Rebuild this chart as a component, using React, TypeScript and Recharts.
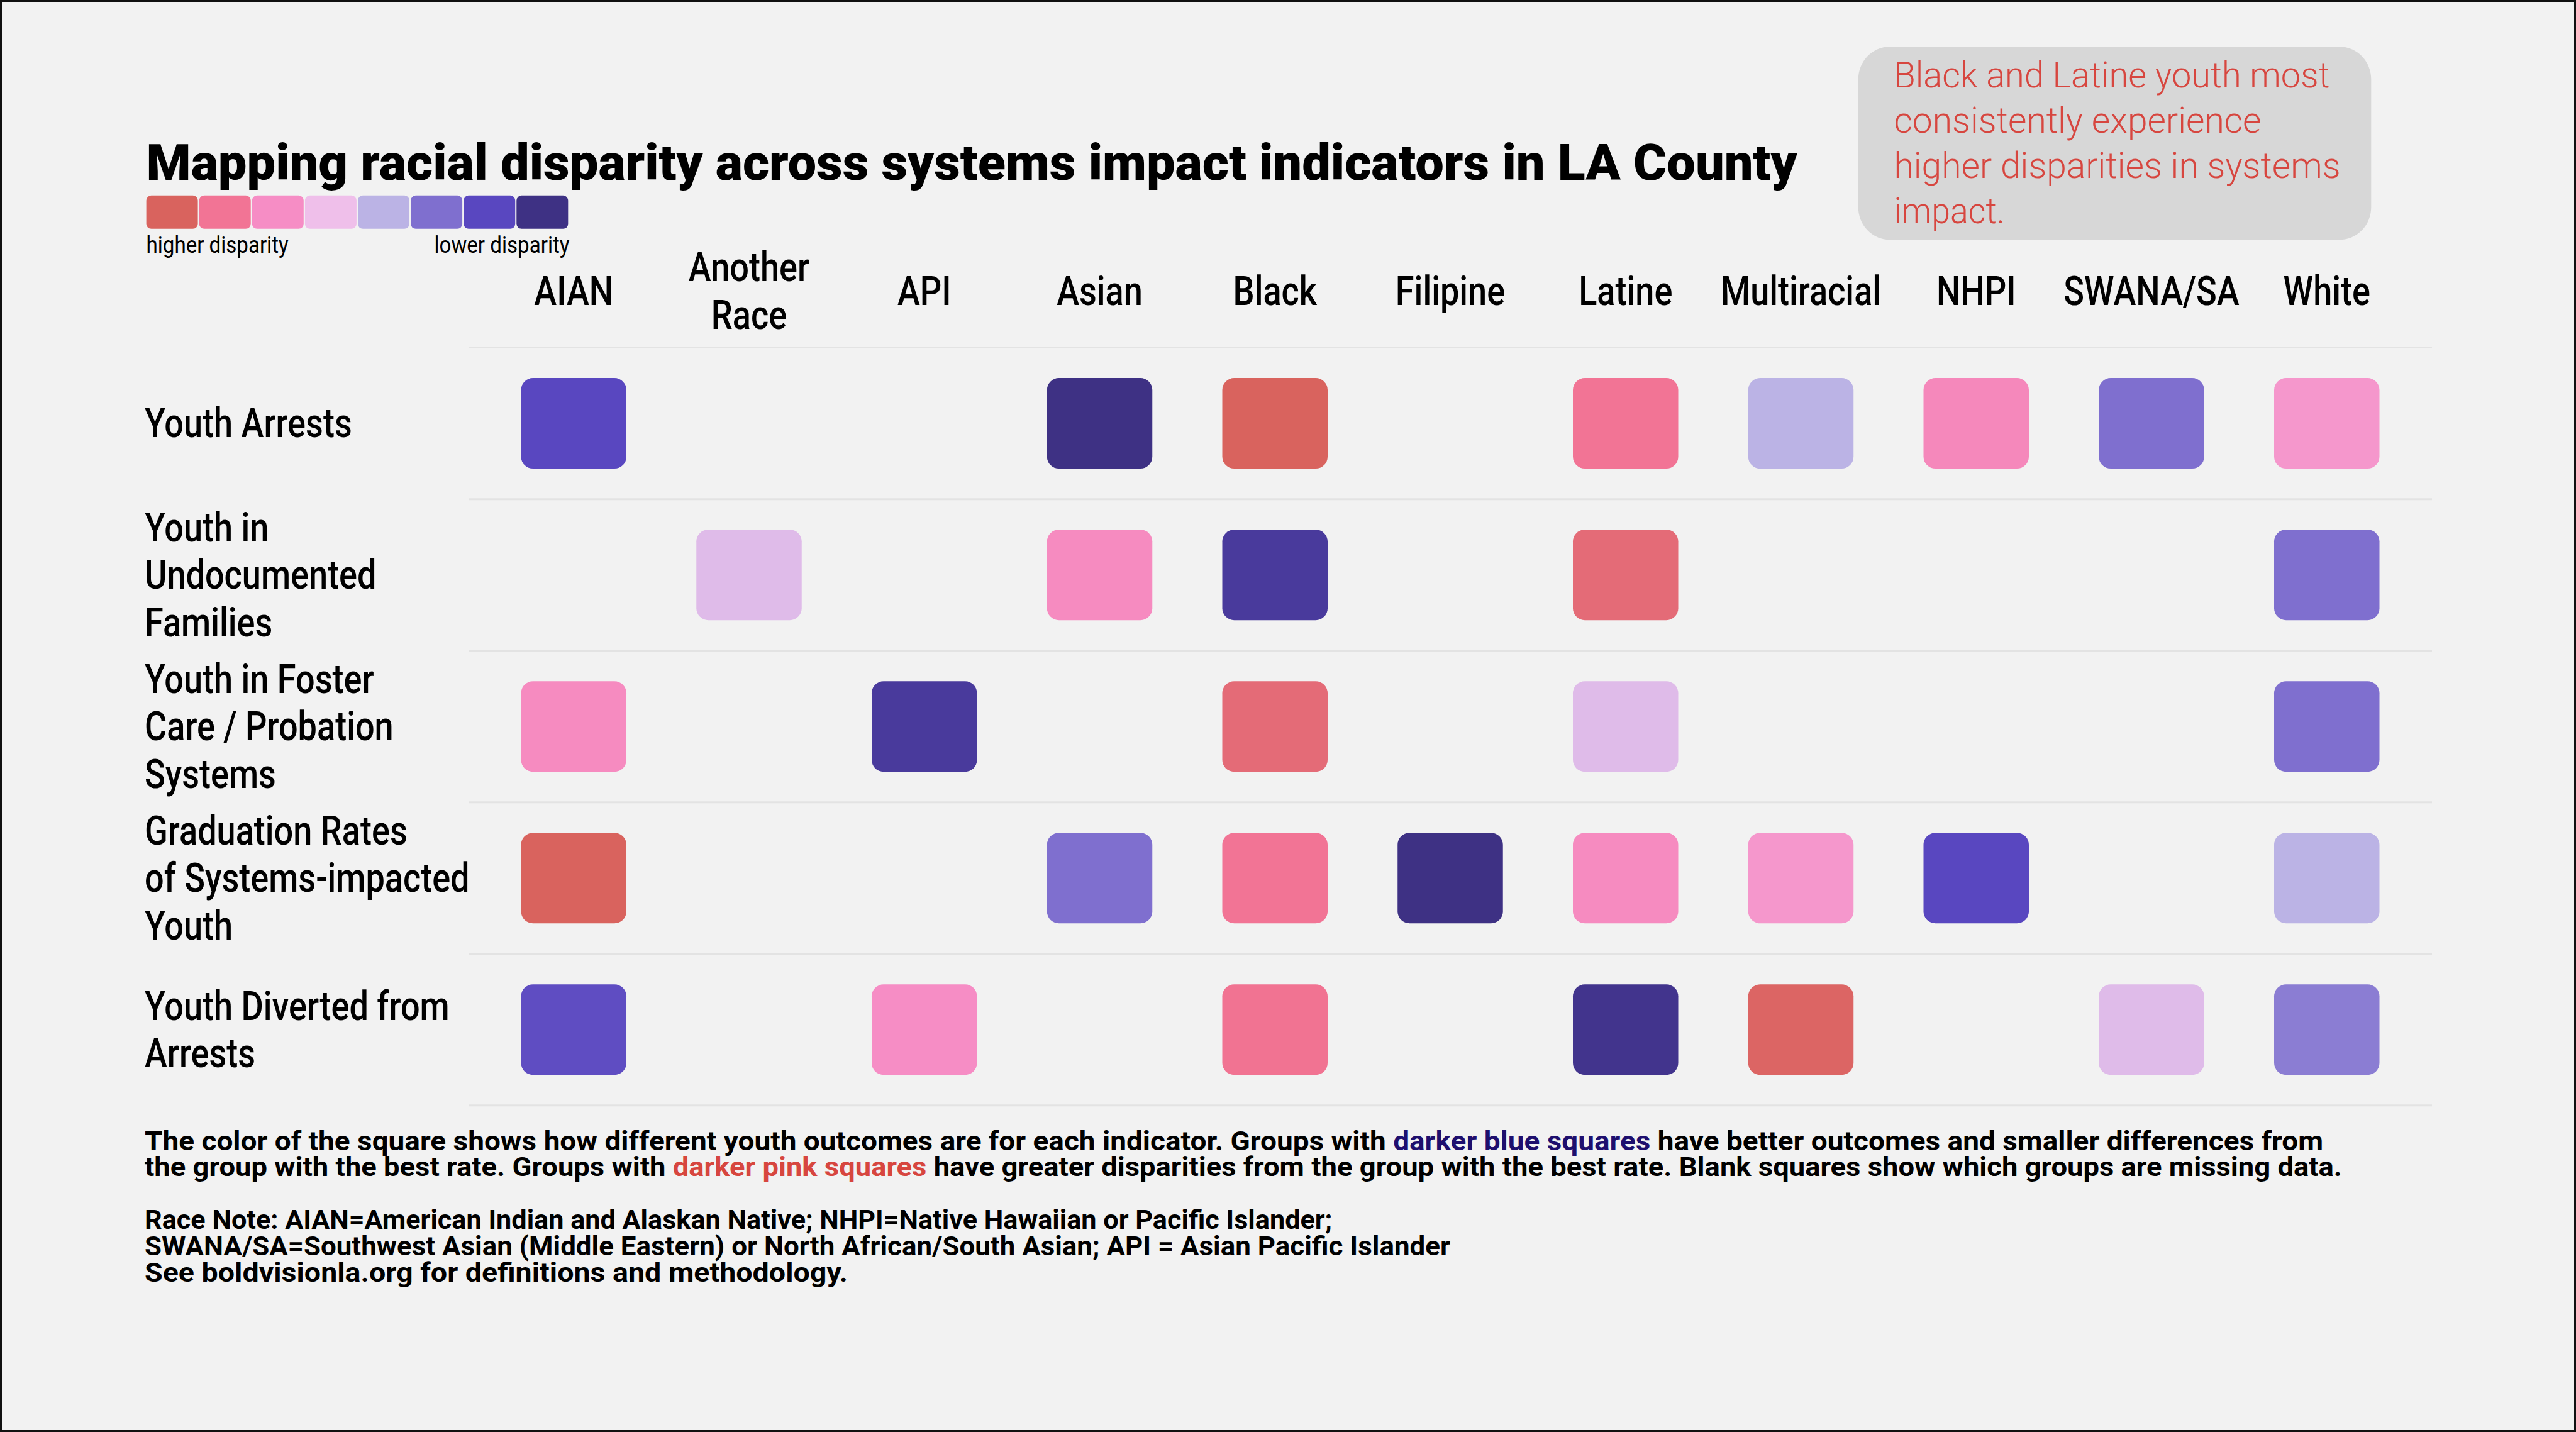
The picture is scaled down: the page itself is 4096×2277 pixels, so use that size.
import React from "react";
import { ScatterChart, Scatter, XAxis, YAxis, ReferenceLine } from "recharts";

// columns (race groups) and rows (indicators)
const races = ["AIAN", "Another Race", "API", "Asian", "Black", "Filipine", "Latine", "Multiracial", "NHPI", "SWANA/SA", "White"];
const raceLabels = ["AIAN", "Another\nRace", "API", "Asian", "Black", "Filipine", "Latine", "Multiracial", "NHPI", "SWANA/SA", "White"];
const indicatorLabels = [
  "Youth Arrests",
  "Youth in\nUndocumented\nFamilies",
  "Youth in Foster\nCare / Probation\nSystems",
  "Graduation Rates\nof Systems-impacted\nYouth",
  "Youth Diverted from\nArrests",
];

// disparity level per race, 1 = higher disparity ... 8 = lower disparity, null = missing data
const youthArrests = [7, null, null, 8, 1, null, 2, 5, 2.8, 6, 3.2];
const undocumentedFamilies = [null, 4.3, null, 2.9, 7.6, null, 1.45, null, null, null, 6];
const fosterProbation = [2.9, null, 7.6, null, 1.45, null, 4.3, null, null, null, 6];
const graduationRates = [1, null, null, 6, 2, 8, 2.9, 3.2, 7, null, 5];
const divertedFromArrests = [6.85, null, 3, null, 1.95, null, 7.85, 1.1, null, 4.3, 5.8];
const levelsByIndicator = [youthArrests, undocumentedFamilies, fosterProbation, graduationRates, divertedFromArrests];

// legend scale, higher disparity -> lower disparity
const legendColors = ["#d9635e", "#f27495", "#f68dc5", "#efbfea", "#bbb3e5", "#7f6fcf", "#5947c0", "#3e3184"];

const title = "Mapping racial disparity across systems impact indicators in LA County";
const calloutLines = ["Black and Latine youth most", "consistently experience", "higher disparities in systems", "impact."];

const W = 4096;
const H = 2277;
const FONT = "Roboto, 'Noto Sans', Arial, sans-serif";
const CONDENSE = 0.845;
const LINE_GAP = 75.5;

const cells = levelsByIndicator.flatMap((levels, row) =>
  levels
    .map((level, col) => ({ col, row, race: races[col], level }))
    .filter((d) => d.level !== null)
);

function hexToRgb(h: string) {
  const n = parseInt(h.slice(1), 16);
  return [(n >> 16) & 255, (n >> 8) & 255, n & 255];
}

function levelColor(level: number) {
  const lo = Math.max(0, Math.min(legendColors.length - 1, Math.floor(level) - 1));
  const hi = Math.min(legendColors.length - 1, lo + 1);
  const t = Math.max(0, Math.min(1, level - 1 - lo));
  const a = hexToRgb(legendColors[lo]);
  const b = hexToRgb(legendColors[hi]);
  const c = a.map((v, i) => Math.round(v + (b[i] - v) * t));
  return `rgb(${c[0]},${c[1]},${c[2]})`;
}

function Cell(props: any) {
  const { cx, cy, payload } = props;
  const w = 167.5;
  const h = 144;
  return <rect x={cx - w / 2} y={cy - h / 2} width={w} height={h} rx={19} ry={19} fill={levelColor(payload.level)} />;
}

function RaceTick(props: any) {
  const { x, payload } = props;
  const lines = raceLabels[payload.value].split("\n");
  return (
    <g transform={`translate(${x},0) scale(${CONDENSE},1)`}>
      {lines.map((line: string, i: number) => (
        <text
          key={i}
          x={0}
          y={485 + (i - (lines.length - 1) / 2) * LINE_GAP}
          textAnchor="middle"
          fontFamily={FONT}
          fontWeight={500}
          fontSize={64}
          fill="#000"
        >
          {line}
        </text>
      ))}
    </g>
  );
}

function IndicatorTick(props: any) {
  const { y, payload } = props;
  const lines = indicatorLabels[payload.value].split("\n");
  return (
    <g transform={`translate(230,0) scale(${CONDENSE},1)`}>
      {lines.map((line: string, i: number) => (
        <text
          key={i}
          x={0}
          y={y + 22 + (i - (lines.length - 1) / 2) * LINE_GAP}
          textAnchor="start"
          fontFamily={FONT}
          fontWeight={500}
          fontSize={64}
          fill="#000"
        >
          {line}
        </text>
      ))}
    </g>
  );
}

function Overlay() {
  return (
    <svg width={W} height={H} style={{ position: "absolute", left: 0, top: 0, pointerEvents: "none" }}>
      <text x={232.5} y={286} fontFamily={FONT} fontWeight={900} fontSize={80} textLength={2625} lengthAdjust="spacingAndGlyphs" fill="#000">
        {title}
      </text>
      {legendColors.map((c, i) => (
        <rect key={c} x={232.6 + i * 84.1} y={310.8} width={82} height={53} rx={8} fill={c} />
      ))}
      <text x={232.6} y={402} fontFamily={FONT} fontSize={36} textLength={226} lengthAdjust="spacingAndGlyphs" fill="#000">
        higher disparity
      </text>
      <text x={690.5} y={402} fontFamily={FONT} fontSize={36} textLength={215} lengthAdjust="spacingAndGlyphs" fill="#000">
        lower disparity
      </text>

      <rect x={2954.7} y={74.3} width={815.6} height={307} rx={50} ry={52} fill="#d7d7d7" />
      {calloutLines.map((line, i) => (
        <text
          key={i}
          x={3011.5}
          y={138.7 + i * 72}
          fontFamily={FONT}
          fontWeight={300}
          fontSize={58}
          textLength={[693, 584, 710, 176][i]}
          lengthAdjust="spacingAndGlyphs"
          fill="#d7463f"
        >
          {line}
        </text>
      ))}

      <g fontFamily={FONT} fontWeight={700} fontSize={42} fill="#000">
        <text x={230} y={1828.5} textLength={3464} lengthAdjust="spacingAndGlyphs">
          The color of the square shows how different youth outcomes are for each indicator. Groups with{" "}
          <tspan fill="#1e0f6e">darker blue squares</tspan> have better outcomes and smaller differences from
        </text>
        <text x={230} y={1870} textLength={3494} lengthAdjust="spacingAndGlyphs">
          the group with the best rate. Groups with <tspan fill="#d7463f">darker pink squares</tspan> have greater disparities from
          the group with the best rate. Blank squares show which groups are missing data.
        </text>
        <text x={230} y={1954} textLength={1888} lengthAdjust="spacingAndGlyphs">
          Race Note: AIAN=American Indian and Alaskan Native; NHPI=Native Hawaiian or Pacific Islander;
        </text>
        <text x={230} y={1996} textLength={2076} lengthAdjust="spacingAndGlyphs">
          SWANA/SA=Southwest Asian (Middle Eastern) or North African/South Asian; API = Asian Pacific Islander
        </text>
        <text x={230} y={2037.5} textLength={1118} lengthAdjust="spacingAndGlyphs">
          See boldvisionla.org for definitions and methodology.
        </text>
      </g>
    </svg>
  );
}

export default function App() {
  const rowEdges = [...indicatorLabels.map((_, i) => i - 0.5), indicatorLabels.length - 0.5];
  const axisSize = 40;
  const plotLeft = 745;
  const plotRight = 3867;
  const plotTop = 552.6;
  const plotBottom = 1757.8;

  return (
    <div style={{ position: "absolute", left: 0, top: 0, width: W, height: H, background: "#f2f2f2", overflow: "hidden" }}>
      <div style={{ position: "absolute", left: 0, top: 0 }}>
        <ScatterChart
          width={W}
          height={H}
          margin={{ top: plotTop - axisSize, left: plotLeft - axisSize, right: W - plotRight, bottom: H - plotBottom }}
        >
          <XAxis
            xAxisId={0}
            type="number"
            dataKey="col"
            orientation="top"
            domain={[-0.6, races.length - 0.4]}
            ticks={races.map((_, i) => i)}
            interval={0}
            height={axisSize}
            axisLine={false}
            tickLine={false}
            tick={<RaceTick />}
          />
          <YAxis
            yAxisId={0}
            type="number"
            dataKey="row"
            domain={[-0.5, indicatorLabels.length - 0.5]}
            ticks={indicatorLabels.map((_, i) => i)}
            interval={0}
            reversed
            width={axisSize}
            axisLine={false}
            tickLine={false}
            tick={<IndicatorTick />}
          />
          {rowEdges.map((e) => (
            <ReferenceLine key={e} y={e} stroke="#e3e3e3" strokeWidth={3} ifOverflow="visible" />
          ))}
          <Scatter data={cells} shape={<Cell />} isAnimationActive={false} />
        </ScatterChart>
      </div>
      <Overlay />
      <div
        style={{
          position: "absolute",
          left: 0,
          top: 0,
          width: W,
          height: H,
          boxSizing: "border-box",
          border: "3px solid #111",
          pointerEvents: "none",
        }}
      />
    </div>
  );
}
